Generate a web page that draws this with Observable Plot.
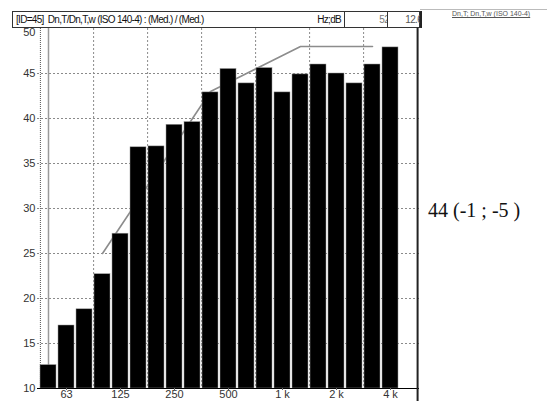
<!DOCTYPE html>
<html>
<head>
<meta charset="utf-8">
<script src="https://cdn.jsdelivr.net/npm/d3@7"></script>
<script src="https://cdn.jsdelivr.net/npm/@observablehq/plot@0.6"></script>
<style>
  html, body { margin: 0; padding: 0; background: #fff; }
  #wrap { position: relative; width: 547px; height: 401px; overflow: hidden; font-family: "Liberation Sans", Arial, sans-serif; }
  #chart { position: absolute; left: 0; top: 0; }
  .hdr { position: absolute; left: 12px; top: 11px; width: 406px; height: 15px; border: 1px solid #333; background: #fff; font-size: 10px; letter-spacing: -0.7px; color: #111; line-height: 15px; }
  .hdr .t { position: absolute; left: 3px; top: 0; white-space: pre; }
  .hdr .u { position: absolute; left: 298px; width: 30px; text-align: right; top: 0; }
  .hdr .b1 { position: absolute; left: 331px; width: 42px; top: -1px; height: 15px; border: 1px solid #333; overflow: hidden; text-align: right; color: #777; }
  .hdr .b1 span { position: relative; left: 2px; }
  .hdr .b2 { position: absolute; left: 374px; width: 32px; top: -1px; height: 15px; border: 1px solid #333; border-right: 2px solid #222; overflow: hidden; text-align: right; color: #555; }
  .hdr .b2 span { position: relative; left: 2px; }
  .topline { position: absolute; left: 420px; top: 9px; width: 127px; height: 0; border-top: 1px solid #bbb; }
  .small { position: absolute; left: 452px; top: 10px; font-size: 7px; color: #555; text-decoration: underline; white-space: nowrap; letter-spacing: 0; }
  .index { position: absolute; left: 428px; top: 199px; font-family: "Liberation Serif", "Times New Roman", serif; font-size: 20px; color: #111; white-space: pre; }
</style>
</head>
<body>
<div id="wrap">
  <div id="chart"></div>
  <div class="hdr">
    <span class="t">[ID=45]  Dn,T/Dn,T,w (ISO 140-4) : (Med.) / (Med.)</span>
    <span class="u">Hz;dB</span>
    <span class="b1"><span>52</span></span>
    <span class="b2"><span>12.6</span></span>
  </div>
  <div class="topline"></div>
  <div class="small">Dn,T; Dn,T,w (ISO 140-4)</div>
  <div class="index">44 (-1 ; -5 )</div>
</div>
<script>
// Third-octave bands (Hz)
const bands = ["50","63","80","100","125","160","200","250","315","400","500","630","800","1000","1250","1600","2000","2500","3150","4000","5000"];
// Measured Dn,T (dB) for 50 Hz … 4 kHz
const levels = [12.6, 17.0, 18.8, 22.7, 27.2, 36.8, 36.9, 39.3, 39.6, 42.9, 45.5, 43.9, 45.6, 42.9, 44.9, 46.0, 45.0, 43.9, 46.0, 47.9];
// Shifted ISO 717-1 reference curve, 100 Hz … 3150 Hz
const refBands = ["100","125","160","200","250","315","400","500","630","800","1000","1250","1600","2000","2500","3150"];
const refValues = [25, 28, 31, 34, 37, 40, 43, 44, 45, 46, 47, 48, 48, 48, 48, 48];
// Octave boundaries for vertical grid (right edge of these bands)
const octaveEdges = ["80","160","315","630","1250","2500"];
// Axis ticks
const xTicks = ["63","125","250","500","1000","2000","4000"];
const xTickLabels = ["63","125","250","500","1 k","2 k","4 k"];
const yTicks = [10, 15, 20, 25, 30, 35, 40, 45];
const yTop = [50];
const yGrid = [15, 20, 25, 30, 35, 40, 45];

const bars = levels.map((v, i) => ({band: bands[i], value: v}));
const ref = refBands.map((b, i) => ({band: b, value: refValues[i]}));
const gridRows = yGrid.map(v => ({v}));
const gridCols = octaveEdges.map(b => ({b}));

const W = 547, H = 401, mL = 37, mR = 128, mT = 28, mB = 13;
const xOpts = {type: "band", domain: bands, range: [mL, W - mR], paddingInner: 0.12, paddingOuter: 0.06, align: 0.5};
let step;
try { step = Plot.scale({x: xOpts}).step; } catch (e) {}
if (!step) step = (W - mR - mL) / (bands.length - 0.12 + 2 * 0.06);
const half = step / 2;
const labelOf = new Map(xTicks.map((t, i) => [t, xTickLabels[i]]));

const chart = Plot.plot({
  width: W, height: H,
  marginLeft: mL, marginRight: mR, marginTop: mT, marginBottom: mB,
  style: {fontFamily: "'Liberation Sans', Arial, sans-serif", fontSize: "11px", color: "#333", background: "transparent"},
  x: {type: "band", domain: bands, paddingInner: 0.12, paddingOuter: 0.06, align: 0.5, axis: null, label: null},
  y: {domain: [10, 50], axis: null, label: null},
  marks: [
    Plot.ruleY(gridRows, {y: "v", stroke: "#8a8a8a", strokeWidth: 1, strokeDasharray: "2,2"}),
    Plot.ruleX(gridCols, {x: "b", dx: half, stroke: "#8a8a8a", strokeWidth: 1, strokeDasharray: "2,2"}),
    Plot.ruleX(["50"], {dx: -half + 1, stroke: "#555", strokeWidth: 1, strokeDasharray: "1,1"}),
    Plot.ruleX(["50"], {stroke: "#9a9a9a", strokeWidth: 1.5}),
    Plot.line(ref, {x: "band", y: "value", stroke: "#8c8c8c", strokeWidth: 1.6}),
    Plot.barY(bars, {x: "band", y1: 10, y2: "value", fill: "#000", stroke: "#999", strokeWidth: 0.5}),
    Plot.ruleY([10], {stroke: "#000", strokeWidth: 1}),
    Plot.ruleX(["5000"], {dx: half, stroke: "#222", strokeWidth: 2, insetBottom: -14, insetTop: -2}),
    Plot.axisY(yTicks, {tickSize: 0, tickPadding: 2, fontSize: 11, fill: "#333", label: null}),
    Plot.axisY(yTop, {tickSize: 0, tickPadding: 2, fontSize: 11, fill: "#333", dy: 4, label: null}),
    Plot.axisX(xTicks, {tickSize: 2, tickPadding: 0, fontSize: 11, fill: "#333", stroke: "#666", label: null, tickFormat: d => labelOf.get(d)})
  ]
});
document.getElementById("chart").appendChild(chart);
</script>
</body>
</html>
